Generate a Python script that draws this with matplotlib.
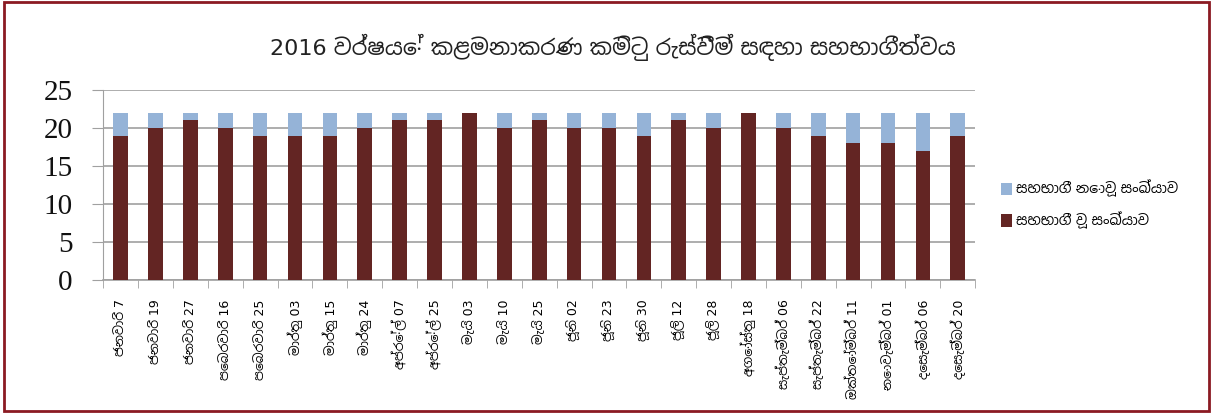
import numpy as np
import matplotlib
matplotlib.use('Agg')
import matplotlib.pyplot as plt
from matplotlib import font_manager
from matplotlib.ft2font import FT2Font
from matplotlib.patches import Rectangle

dates = ['ජනවාරි 7', 'ජනවාරි 19', 'ජනවාරි 27', 'පෙබරවාරි 16', 'පෙබරවාරි 25',
         'මාර්තු 03', 'මාර්තු 15', 'මාර්තු 24', 'අප්‍රේල් 07', 'අප්‍රේල් 25',
         'මැයි 03', 'මැයි 10', 'මැයි 25', 'ජූනි 02', 'ජූනි 23', 'ජූනි 30',
         'ජූලි 12', 'ජූලි 28', 'අගෝස්තු 18', 'සැප්තැම්බර් 06', 'සැප්තැම්බර් 22',
         'ඔක්තෝම්බර් 11', 'නොවැම්බර් 01', 'දෙසැම්බර් 06', 'දෙසැම්බර් 20']
attended = [19, 20, 21, 20, 19, 19, 19, 20, 21, 21, 22, 20, 21, 20, 20, 19,
            21, 20, 22, 20, 19, 18, 18, 17, 19]
absent = [3, 2, 1, 2, 3, 3, 3, 2, 1, 1, 0, 2, 1, 2, 2, 3,
          1, 2, 0, 2, 3, 4, 4, 5, 3]
title = '2016 වර්ෂයේ කළමනාකරණ කමිටු රැස්වීම් සඳහා සහභාගීත්වය'
lbl_absent = 'සහභාගී නොවූ සංඛ්‍යාව'
lbl_attended = 'සහභාගී වූ සංඛ්‍යාව'


def sinhala_fonts():
    # installed fonts that have Sinhala glyphs, sans / non-mono first
    found = []
    for f in font_manager.fontManager.ttflist:
        try:
            if ord('ස') in FT2Font(f.fname).get_charmap():
                found.append(f.name)
        except Exception:
            pass
    found = sorted(set(found), key=lambda n: ('Mono' in n, 'Sans' not in n, n))
    return found


sf = sinhala_fonts()
fams = ['DejaVu Sans'] + sf[:1]
plt.rcParams['font.family'] = fams

fig = plt.figure(figsize=(12.13, 4.13), dpi=100)
ax = fig.add_axes([0.085, 0.322, 0.719, 0.46])

x = np.arange(len(dates))
ax.bar(x, attended, width=0.42, color='#632523', zorder=3, label=lbl_attended)
ax.bar(x, absent, width=0.42, bottom=attended, color='#95B3D7', zorder=3, label=lbl_absent)

ax.set_ylim(0, 25)
ax.set_xlim(-0.5, len(dates) - 0.5)
ax.set_yticks(range(0, 26, 5))
ax.yaxis.grid(True, color='#A0A0A0', linewidth=1.2, zorder=0)
for s in ['top', 'right']:
    ax.spines[s].set_visible(False)
ax.spines['left'].set_color('#A0A0A0')
ax.spines['bottom'].set_color('#A0A0A0')
ax.spines['bottom'].set_linewidth(1.2)
ax.tick_params(axis='y', colors='#A0A0A0', labelcolor='#111111', length=8, pad=14)
for t in ax.get_yticklabels():
    t.set_fontfamily('Liberation Serif')
    t.set_fontsize(21)

ax.set_xticks(x)
ax.set_xticklabels(dates, rotation=90, fontsize=9)
ax.tick_params(axis='x', length=0, pad=14)
ax.set_xticks(np.arange(len(dates) + 1) - 0.5, minor=True)
ax.tick_params(axis='x', which='minor', length=6, color='#A0A0A0')

h, l = ax.get_legend_handles_labels()
fig.legend(h[::-1], l[::-1], loc='center left', bbox_to_anchor=(0.815, 0.505),
           frameon=False, fontsize=10, handlelength=0.8, handleheight=1.0,
           handletextpad=0.3, labelspacing=1.0)

fig.text(0.505, 0.885, title, ha='center', va='center', fontsize=16, color='#222222')

fig.patches.append(Rectangle((0.003, 0.005), 0.994, 0.99, transform=fig.transFigure,
                             fill=False, edgecolor='#8B1A22', linewidth=2))

fig.savefig('out.png', dpi=100)
